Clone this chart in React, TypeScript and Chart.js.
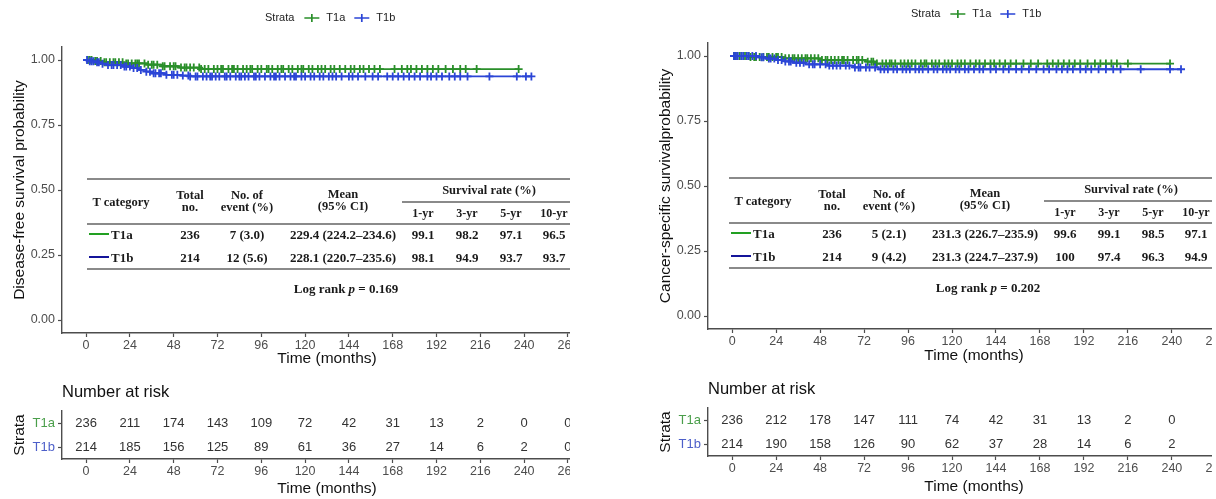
import React, { useEffect, useRef } from 'react';
import { Chart, registerables } from 'chart.js';

Chart.register(...registerables);

const SANS = '"Liberation Sans", Arial, sans-serif';
const SERIF = '"Liberation Serif", "Times New Roman", serif';
const TICK_COLOR = '#4d4d4d';
const AXIS_COLOR = '#4d4d4d';
const GREEN = '#2a8f2a';
const BLUE = '#2b45d6';

const monthTicks = [0, 24, 48, 72, 96, 120, 144, 168, 192, 216, 240, 264];
const probTicks = [0, 0.25, 0.5, 0.75, 1];
const strata = ['T1a', 'T1b'];
const strataColors = [GREEN, BLUE];
const riskLabelColors = ['#4a9e4a', '#4d5fc9'];
const tableLineColors = ['#22a022', '#14149a'];
const rateYears = ['1-yr', '3-yr', '5-yr', '10-yr'];

// ---------- Disease-free survival ----------
const dfsT1aEventTimes = [4, 9, 21, 33, 42, 51, 63];
const dfsT1aSurv = [0.996, 0.991, 0.987, 0.982, 0.976, 0.971, 0.965];
const dfsT1bEventTimes = [2, 5, 8, 11, 20, 26, 29, 33, 36, 44, 52, 57];
const dfsT1bSurv = [0.995, 0.991, 0.986, 0.981, 0.975, 0.969, 0.962, 0.955, 0.949, 0.943, 0.94, 0.937];
const dfsT1aCensor = [1, 2, 3, 5, 6, 8, 10, 11, 13, 15, 16, 18, 20, 22, 23, 25, 27, 28, 29, 32, 34, 36, 37, 39, 42, 43, 46, 48, 49, 52, 54, 55, 57, 59, 62, 63, 65, 67, 70, 72, 74, 75, 78, 80, 81, 83, 86, 88, 90, 91, 94, 96, 99, 100, 102, 105, 107, 108, 111, 113, 116, 118, 119, 122, 124, 127, 129, 131, 134, 136, 139, 142, 145, 147, 150, 152, 155, 158, 161, 169, 173, 176, 178, 181, 184, 187, 190, 193, 197, 201, 205, 208, 214, 237];
const dfsT1bCensor = [0.5, 2, 3, 4, 6, 7, 9, 12, 14, 15, 17, 19, 21, 22, 24, 26, 28, 30, 33, 35, 37, 38, 40, 41, 44, 47, 48, 50, 53, 56, 57, 60, 61, 64, 66, 68, 69, 71, 73, 76, 77, 79, 82, 84, 85, 87, 89, 92, 93, 95, 98, 101, 103, 104, 106, 109, 112, 114, 115, 118, 120, 123, 125, 128, 130, 133, 135, 137, 140, 144, 146, 149, 153, 157, 160, 165, 168, 171, 174, 177, 180, 183, 187, 189, 192, 195, 199, 202, 205, 209, 221, 236, 241, 244];
const dfsRiskT1a = [236, 211, 174, 143, 109, 72, 42, 31, 13, 2, 0, 0];
const dfsRiskT1b = [214, 185, 156, 125, 89, 61, 36, 27, 14, 6, 2, 0];
const dfsTotal = [236, 214];
const dfsEvents = ['7 (3.0)', '12 (5.6)'];
const dfsMean = ['229.4 (224.2–234.6)', '228.1 (220.7–235.6)'];
const dfsRatesT1a = ['99.1', '98.2', '97.1', '96.5'];
const dfsRatesT1b = ['98.1', '94.9', '93.7', '93.7'];
const dfsLogRankP = '0.169';

// ---------- Cancer-specific survival ----------
const cssT1aEventTimes = [10, 29, 48, 73, 78];
const cssT1aSurv = [0.996, 0.991, 0.985, 0.978, 0.971];
const cssT1bEventTimes = [14, 18, 24, 29, 33, 40, 52, 66, 80];
const cssT1bSurv = [0.995, 0.99, 0.985, 0.979, 0.974, 0.968, 0.963, 0.956, 0.949];
const cssT1aCensor = [1, 2, 4, 5, 7, 9, 10, 12, 13, 15, 17, 19, 20, 22, 24, 25, 27, 29, 31, 33, 34, 36, 38, 40, 41, 43, 45, 47, 49, 51, 52, 54, 56, 58, 60, 61, 63, 66, 68, 69, 71, 74, 76, 77, 79, 82, 84, 86, 87, 89, 92, 94, 96, 98, 100, 103, 105, 106, 109, 111, 113, 116, 118, 120, 123, 125, 127, 130, 133, 135, 138, 141, 143, 146, 149, 152, 155, 159, 163, 167, 172, 175, 178, 181, 184, 187, 190, 194, 198, 201, 204, 207, 210, 216, 239];
const cssT1bCensor = [1, 2, 3, 5, 6, 8, 9, 11, 13, 16, 17, 20, 21, 23, 25, 27, 29, 31, 32, 35, 37, 39, 42, 44, 45, 48, 51, 53, 55, 57, 59, 62, 64, 67, 69, 70, 73, 75, 78, 81, 83, 85, 88, 90, 93, 95, 97, 100, 102, 104, 107, 110, 112, 115, 117, 119, 122, 124, 127, 129, 132, 135, 137, 141, 144, 148, 151, 155, 158, 162, 166, 170, 173, 177, 180, 183, 186, 190, 193, 196, 200, 204, 208, 212, 223, 239, 245];
const cssRiskT1a = [236, 212, 178, 147, 111, 74, 42, 31, 13, 2, 0, 0];
const cssRiskT1b = [214, 190, 158, 126, 90, 62, 37, 28, 14, 6, 2, 0];
const cssTotal = [236, 214];
const cssEvents = ['5 (2.1)', '9 (4.2)'];
const cssMean = ['231.3 (226.7–235.9)', '231.3 (224.7–237.9)'];
const cssRatesT1a = ['99.6', '99.1', '98.5', '97.1'];
const cssRatesT1b = ['100', '97.4', '96.3', '94.9'];
const cssLogRankP = '0.202';

const X_MIN = -13.2;
const X_MAX = 277.2;
const Y_W = 62;

function survAt(t: number, times: number[], surv: number[]) {
  let s = 1;
  for (let i = 0; i < times.length; i++) if (times[i] <= t) s = surv[i];
  return s;
}

function stepPoints(times: number[], surv: number[], censor: number[]) {
  const end = Math.max(...censor);
  const pts = [{ x: 0, y: 1 }];
  times.forEach((t, i) => pts.push({ x: t, y: surv[i] }));
  pts.push({ x: end, y: surv[surv.length - 1] });
  return pts;
}

function censorPoints(times: number[], surv: number[], censor: number[]) {
  return censor.map((t) => ({ x: t, y: survAt(t, times, surv) }));
}

function xAxis(height: number, titlePad: number) {
  return {
    type: 'linear',
    min: X_MIN,
    max: X_MAX,
    afterBuildTicks: (s: any) => {
      s.ticks = monthTicks.map((v) => ({ value: v }));
    },
    afterFit: (s: any) => {
      s.height = height;
    },
    ticks: {
      autoSkip: false,
      maxRotation: 0,
      padding: 1,
      color: TICK_COLOR,
      font: { family: SANS, size: 12.5 },
      callback: (v: any) => String(v),
    },
    grid: { display: true, drawOnChartArea: false, drawTicks: true, tickLength: 4, tickColor: AXIS_COLOR, tickWidth: 1.2 },
    border: { display: true, color: AXIS_COLOR, width: 1.4 },
    title: {
      display: true,
      text: 'Time (months)',
      color: '#111',
      font: { family: SANS, size: 15.5 },
      padding: { top: 0, bottom: titlePad },
    },
  };
}

function yTitle(text: string) {
  return { display: true, text, color: '#111', font: { family: SANS, size: 15.5 }, padding: { top: 10, bottom: 0 } };
}

interface KMProps {
  left: number;
  top: number;
  width: number;
  height: number;
  padTop: number;
  xHeight: number;
  titlePad: number;
  yLabel: string;
  a: { times: number[]; surv: number[]; censor: number[] };
  b: { times: number[]; surv: number[]; censor: number[] };
}

function KMChart(p: KMProps) {
  const ref = useRef<HTMLCanvasElement>(null);
  useEffect(() => {
    if (!ref.current) return;
    const legendPlugin = {
      id: 'kmLegend',
      afterDraw(chart: any) {
        const { ctx, chartArea } = chart;
        const y = chartArea.top - 29;
        let x = chartArea.left + 203;
        ctx.save();
        ctx.font = `11px ${SANS}`;
        ctx.fillStyle = '#222';
        ctx.textBaseline = 'middle';
        ctx.textAlign = 'left';
        ctx.fillText('Strata', x, y);
        x += ctx.measureText('Strata').width + 10;
        strata.forEach((s, i) => {
          ctx.strokeStyle = strataColors[i];
          ctx.lineWidth = 1.7;
          ctx.beginPath();
          ctx.moveTo(x, y);
          ctx.lineTo(x + 15, y);
          ctx.moveTo(x + 7.5, y - 4);
          ctx.lineTo(x + 7.5, y + 4);
          ctx.stroke();
          x += 22;
          ctx.fillText(s, x, y);
          x += ctx.measureText(s).width + 9;
        });
        ctx.restore();
      },
    };
    const series = [p.a, p.b];
    const datasets: any[] = [];
    series.forEach((d, i) => {
      datasets.push({
        type: 'line',
        label: strata[i],
        data: stepPoints(d.times, d.surv, d.censor),
        stepped: true,
        borderColor: strataColors[i],
        borderWidth: 1.8,
        pointRadius: 0,
        fill: false,
        order: i === 1 ? 0 : 2,
      });
      datasets.push({
        type: 'line',
        label: strata[i] + ' censored',
        data: censorPoints(d.times, d.surv, d.censor),
        showLine: false,
        pointStyle: 'cross',
        pointRadius: 4,
        pointBorderWidth: 1.8,
        borderColor: strataColors[i],
        backgroundColor: strataColors[i],
        order: i === 1 ? 1 : 3,
      });
    });
    const chart = new Chart(ref.current, {
      type: 'line',
      data: { datasets },
      options: {
        responsive: false,
        animation: false,
        devicePixelRatio: 1,
        events: [],
        layout: { padding: { top: p.padTop, right: 30, bottom: 0, left: 0 } },
        plugins: { legend: { display: false }, tooltip: { enabled: false } },
        scales: {
          x: xAxis(p.xHeight, p.titlePad) as any,
          y: {
            type: 'linear',
            min: -0.05,
            max: 1.05,
            afterBuildTicks: (s: any) => {
              s.ticks = probTicks.map((v) => ({ value: v }));
            },
            afterFit: (s: any) => {
              s.width = Y_W;
            },
            ticks: {
              padding: 3,
              color: TICK_COLOR,
              font: { family: SANS, size: 12.5 },
              callback: (v: any) => Number(v).toFixed(2),
            },
            grid: { display: true, drawOnChartArea: false, drawTicks: true, tickLength: 4, tickColor: AXIS_COLOR, tickWidth: 1.2 },
            border: { display: true, color: AXIS_COLOR, width: 1.4 },
            title: yTitle(p.yLabel),
          } as any,
        },
      },
      plugins: [legendPlugin],
    } as any);
    return () => chart.destroy();
  }, []);
  return (
    <canvas
      ref={ref}
      width={p.width}
      height={p.height}
      style={{ position: 'absolute', left: p.left, top: p.top, width: p.width, height: p.height }}
    />
  );
}

interface RiskProps {
  left: number;
  top: number;
  width: number;
  height: number;
  padTop: number;
  xHeight: number;
  titlePad: number;
  rows: number[][];
}

function RiskChart(p: RiskProps) {
  const ref = useRef<HTMLCanvasElement>(null);
  useEffect(() => {
    if (!ref.current) return;
    const riskPlugin = {
      id: 'riskNumbers',
      afterDraw(chart: any) {
        const { ctx, chartArea, scales } = chart;
        ctx.save();
        ctx.textBaseline = 'middle';
        ctx.textAlign = 'left';
        ctx.fillStyle = '#111';
        ctx.font = `16.5px ${SANS}`;
        ctx.fillText('Number at risk', chartArea.left, chartArea.top - 19);
        ctx.textAlign = 'center';
        ctx.fillStyle = '#333';
        ctx.font = `13px ${SANS}`;
        p.rows.forEach((row, ri) => {
          const y = scales.y.getPixelForValue(ri);
          row.forEach((v, ci) => {
            ctx.fillText(String(v), scales.x.getPixelForValue(monthTicks[ci]), y);
          });
        });
        ctx.restore();
      },
    };
    const chart = new Chart(ref.current, {
      type: 'scatter',
      data: { datasets: [] },
      options: {
        responsive: false,
        animation: false,
        devicePixelRatio: 1,
        events: [],
        layout: { padding: { top: p.padTop, right: 30, bottom: 0, left: 0 } },
        plugins: { legend: { display: false }, tooltip: { enabled: false } },
        scales: {
          x: xAxis(p.xHeight, p.titlePad) as any,
          y: {
            type: 'category',
            labels: strata,
            offset: true,
            afterFit: (s: any) => {
              s.width = Y_W;
            },
            ticks: {
              padding: 3,
              color: (c: any) => riskLabelColors[c.index],
              font: { family: SANS, size: 13 },
            },
            grid: { display: true, offset: false, drawOnChartArea: false, drawTicks: true, tickLength: 4, tickColor: AXIS_COLOR, tickWidth: 1.2 },
            border: { display: true, color: AXIS_COLOR, width: 1.4 },
            title: yTitle('Strata'),
          } as any,
        },
      },
      plugins: [riskPlugin],
    } as any);
    return () => chart.destroy();
  }, []);
  return (
    <canvas
      ref={ref}
      width={p.width}
      height={p.height}
      style={{ position: 'absolute', left: p.left, top: p.top, width: p.width, height: p.height }}
    />
  );
}

interface TableProps {
  left: number;
  top: number;
  totals: number[];
  events: string[];
  means: string[];
  rates: string[][];
  pValue: string;
}

const colTotal = 103;
const colEvents = 160;
const colMean = 256;
const colSR = 402;
const colRates = [336, 380, 424, 467];

function SurvTable(p: TableProps) {
  const lineColor = '#8a8a8a';
  const items: React.ReactNode[] = [];
  let k = 0;
  const hLine = (y: number, from: number, h: number) =>
    items.push(
      <div key={k++} style={{ position: 'absolute', left: from, top: y - h / 2, width: 540 - from, height: h, background: lineColor }} />
    );
  const cell = (cx: number, cy: number, content: React.ReactNode, size = 13) =>
    items.push(
      <div
        key={k++}
        style={{
          position: 'absolute',
          left: cx,
          top: cy,
          transform: 'translate(-50%, -50%)',
          whiteSpace: 'nowrap',
          fontFamily: SERIF,
          fontWeight: 'bold',
          fontSize: size,
          lineHeight: 1,
          color: '#1a1a1a',
        }}
      >
        {content}
      </div>
    );
  hLine(0, 0, 2);
  hLine(23, 315, 1.5);
  hLine(45, 0, 2);
  hLine(90, 0, 2);
  cell(34, 23, 'T category', 12.5);
  cell(colTotal, 16, 'Total', 12.5);
  cell(colTotal, 28, 'no.', 12.5);
  cell(colEvents, 16, 'No. of', 12.5);
  cell(colEvents, 28, 'event (%)', 12.5);
  cell(colMean, 15, 'Mean', 12.5);
  cell(colMean, 27, '(95% CI)', 12.5);
  cell(colSR, 11, 'Survival rate (%)', 12.5);
  rateYears.forEach((yr, i) => cell(colRates[i], 34, yr, 12));
  const rowY = [55, 78];
  strata.forEach((s, ri) => {
    const y = rowY[ri];
    items.push(
      <div key={k++} style={{ position: 'absolute', left: 2, top: y - 1, width: 20, height: 2, background: tableLineColors[ri] }} />
    );
    items.push(
      <div
        key={k++}
        style={{
          position: 'absolute',
          left: 24,
          top: y,
          transform: 'translate(0, -50%)',
          whiteSpace: 'nowrap',
          fontFamily: SERIF,
          fontWeight: 'bold',
          fontSize: 13,
          lineHeight: 1,
          color: '#1a1a1a',
        }}
      >
        {s}
      </div>
    );
    cell(colTotal, y, String(p.totals[ri]));
    cell(colEvents, y, p.events[ri]);
    cell(colMean, y, p.means[ri]);
    p.rates[ri].forEach((r, i) => cell(colRates[i], y, r));
  });
  cell(
    259,
    109,
    <span>
      Log rank <i>p</i> = {p.pValue}
    </span>
  );
  return <div style={{ position: 'absolute', left: p.left, top: p.top, width: 0, height: 0 }}>{items}</div>;
}

export default function App() {
  return (
    <div style={{ position: 'fixed', left: 0, top: 0, width: 1216, height: 499, background: '#fff', overflow: 'hidden' }}>
      {/* Left panel: disease-free survival */}
      <div style={{ position: 'absolute', left: 0, top: 0, width: 570, height: 499, overflow: 'hidden' }}>
        <KMChart
          left={0}
          top={0}
          width={622}
          height={372}
          padTop={47}
          xHeight={39}
          titlePad={4}
          yLabel="Disease-free survival probability"
          a={{ times: dfsT1aEventTimes, surv: dfsT1aSurv, censor: dfsT1aCensor }}
          b={{ times: dfsT1bEventTimes, surv: dfsT1bSurv, censor: dfsT1bCensor }}
        />
        <SurvTable
          left={87}
          top={179}
          totals={dfsTotal}
          events={dfsEvents}
          means={dfsMean}
          rates={[dfsRatesT1a, dfsRatesT1b]}
          pValue={dfsLogRankP}
        />
        <RiskChart left={0} top={370} width={622} height={128} padTop={41} xHeight={39} titlePad={0} rows={[dfsRiskT1a, dfsRiskT1b]} />
      </div>
      {/* Right panel: cancer-specific survival */}
      <div style={{ position: 'absolute', left: 620, top: 0, width: 592, height: 499, overflow: 'hidden' }}>
        <KMChart
          left={26}
          top={0}
          width={624}
          height={368}
          padTop={43}
          xHeight={39}
          titlePad={3}
          yLabel="Cancer-specific survivalprobability"
          a={{ times: cssT1aEventTimes, surv: cssT1aSurv, censor: cssT1aCensor }}
          b={{ times: cssT1bEventTimes, surv: cssT1bSurv, censor: cssT1bCensor }}
        />
        <SurvTable
          left={109}
          top={178}
          totals={cssTotal}
          events={cssEvents}
          means={cssMean}
          rates={[cssRatesT1a, cssRatesT1b]}
          pValue={cssLogRankP}
        />
        <RiskChart left={26} top={366} width={624} height={130} padTop={42} xHeight={40} titlePad={0} rows={[cssRiskT1a, cssRiskT1b]} />
      </div>
    </div>
  );
}
